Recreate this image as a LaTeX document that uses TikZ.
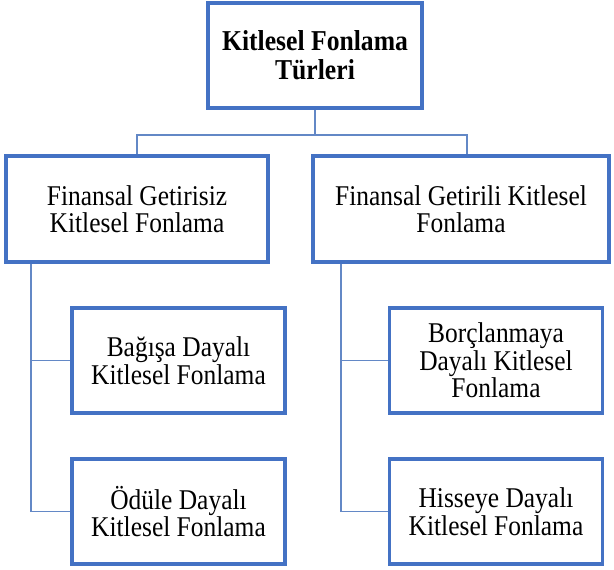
\documentclass[tikz,border=0pt]{standalone}
\usepackage{fontspec}
\setmainfont{Liberation Serif}[FakeStretch=0.89]
\usetikzlibrary{positioning, calc}

\definecolor{boxblue}{HTML}{4472C4}
\definecolor{lineblue}{HTML}{6388C6}

\begin{document}
\begin{tikzpicture}[
    x=1pt, y=-1pt,
    font=\fontsize{28.6}{27.5}\selectfont,
    every node/.style={align=center},
    root/.style ={rectangle, draw=boxblue, line width=3.5pt, fill=white,
                  minimum width=214pt, minimum height=105pt, font=\fontsize{28.8}{29}\selectfont\bfseries},
    cat/.style  ={rectangle, draw=boxblue, line width=3.5pt, fill=white,
                  minimum height=106pt},
    leaf/.style ={rectangle, draw=boxblue, line width=3.5pt, fill=white,
                  minimum width=213pt, minimum height=105pt},
    conn/.style ={draw=lineblue, line width=1.8pt}
]
\useasboundingbox (0,0) rectangle (614,570);

% Level 0
\node[root] (root) at (315,55.5) {Kitlesel Fonlama\\Türleri};

% Level 1
\node[cat, minimum width=262pt] (nongain) at (137,209) {Finansal Getirisiz\\Kitlesel Fonlama};
\node[cat, minimum width=296pt] (gain)    at (461,209) {Finansal Getirili Kitlesel\\Fonlama};

% Level 2 (left)
\node[leaf] (donate) at (178.5,360.5) {Bağışa Dayalı\\Kitlesel Fonlama};
\node[leaf] (reward) at (178.5,511.5) {Ödüle Dayalı\\Kitlesel Fonlama};

% Level 2 (right)
\node[leaf] (debt)   at (496,360.5) {Borçlanmaya\\Dayalı Kitlesel\\Fonlama};
\node[leaf] (equity) at (496,511.5) {Hisseye Dayalı\\Kitlesel Fonlama};

% root to level 1
\coordinate (split) at ($(root.south)+(0,25)$);
\draw[conn] (root.south) -- (split) -| (nongain.north);
\draw[conn] (split) -| ([xshift=6pt]gain.north);

% left trunk
\coordinate (ltrunk) at ([xshift=27pt]nongain.south west);
\draw[conn] (ltrunk) |- (donate.west);
\draw[conn] (ltrunk) |- (reward.west);

% right trunk
\coordinate (rtrunk) at ([xshift=30pt]gain.south west);
\draw[conn] (rtrunk) |- (debt.west);
\draw[conn] (rtrunk) |- (equity.west);
\end{tikzpicture}
\end{document}
